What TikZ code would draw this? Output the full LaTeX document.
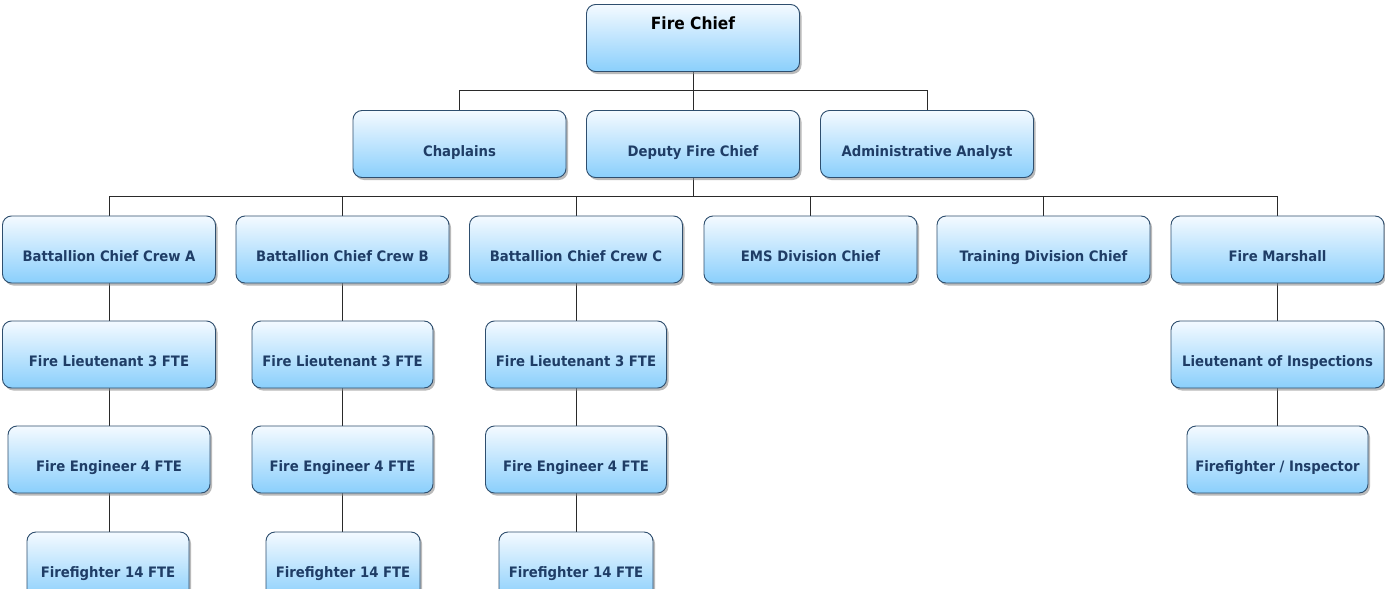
\documentclass[tikz,border=0pt]{standalone}
\usepackage{fontspec}
\newfontfamily\orgfont{DejaVu Sans}[FakeStretch=0.92]
\usetikzlibrary{shadows,backgrounds}
\definecolor{boxtop}{HTML}{F4FAFF}
\definecolor{boxbot}{HTML}{8ACFFC}
\definecolor{boxline}{HTML}{2E4E6E}
\definecolor{boxtext}{HTML}{1F3D66}
\definecolor{wire}{HTML}{2A2A2A}
\tikzset{
  unit/.style={rectangle, rounded corners=9pt, draw=boxline, line width=0.9pt,
    top color=boxtop, bottom color=boxbot, minimum height=67pt,
    inner sep=0pt, font=\orgfont\bfseries\fontsize{14.4}{14.4}\selectfont,
    text=boxtext, align=center, text height=24pt, text depth=0pt,
    drop shadow={shadow xshift=2pt, shadow yshift=-2.5pt, fill=black!45, opacity=0.6}},
  wide/.style={unit, minimum width=213pt},
  mid/.style={unit, minimum width=181pt},
  narrowA/.style={unit, minimum width=202pt},
  chief/.style={unit, minimum width=213pt, text=black,
    font=\orgfont\bfseries\fontsize{16.8}{16.8}\selectfont, text height=0pt, text depth=16pt},
  wire/.style={draw=wire, line width=0.9pt}
}
\begin{document}
\begin{tikzpicture}[x=1pt, y=-1pt]
\useasboundingbox (0,0) rectangle (1385,589);
\clip (0,0) rectangle (1385,589);

% bus junctions
\coordinate (bus1) at (693,90);
\coordinate (bus2) at (693,196);

% top level
\node[chief] (fc) at (693,38) {Fire Chief};

% second level
\node[wide] (chap)  at (459.5,144) {Chaplains};
\node[wide] (dep)   at (693,144)   {Deputy Fire Chief};
\node[wide] (admin) at (927,144)   {Administrative Analyst};

% third level
\node[wide] (bca) at (109,249.5)   {Battallion Chief Crew A};
\node[wide] (bcb) at (342.5,249.5) {Battallion Chief Crew B};
\node[wide] (bcc) at (576,249.5)   {Battallion Chief Crew C};
\node[wide] (ems) at (810.5,249.5) {EMS Division Chief};
\node[wide] (trn) at (1043.5,249.5){Training Division Chief};
\node[wide] (fm)  at (1277.5,249.5){Fire Marshall};

% crew A
\node[wide]    (lta) at (109,354.5) {Fire Lieutenant 3 FTE};
\node[narrowA] (ena) at (109,459.5) {Fire Engineer 4 FTE};
\node[unit, minimum width=162pt] (ffa) at (108,565.5) {Firefighter 14 FTE};

% crew B
\node[mid] (ltb) at (342.5,354.5) {Fire Lieutenant 3 FTE};
\node[mid] (enb) at (342.5,459.5) {Fire Engineer 4 FTE};
\node[unit, minimum width=154pt] (ffb) at (343,565.5) {Firefighter 14 FTE};

% crew C
\node[mid] (ltc) at (576,354.5) {Fire Lieutenant 3 FTE};
\node[mid] (enc) at (576,459.5) {Fire Engineer 4 FTE};
\node[unit, minimum width=154pt] (ffc) at (576,565.5) {Firefighter 14 FTE};

% fire marshall branch
\node[wide] (lti) at (1277.5,354.5) {Lieutenant of Inspections};
\node[mid]  (ffi) at (1277.5,459.5) {Firefighter / Inspector};

% connectors, behind the boxes
\begin{scope}[on background layer]
\fill[white] (0,0) rectangle (1385,589);
\path[wire] (fc.south) -- (bus1);
\path[wire] (bus1) -| (chap.north);
\path[wire] (bus1) -| (admin.north);
\path[wire] (bus1) -- (dep.north);
\path[wire] (dep.south) -- (bus2);
\path[wire] (bus2) -| (bca.north);
\path[wire] (bus2) -| (bcb.north);
\path[wire] (bus2) -| (bcc.north);
\path[wire] (bus2) -| (ems.north);
\path[wire] (bus2) -| (trn.north);
\path[wire] (bus2) -| (fm.north);
\path[wire] (bca.south) -- (lta.north);
\path[wire] (lta.south) -- (ena.north);
\path[wire] (ena.south) -- (ffa.north -| ena.south);
\path[wire] (bcb.south) -- (ltb.north);
\path[wire] (ltb.south) -- (enb.north);
\path[wire] (enb.south) -- (ffb.north -| enb.south);
\path[wire] (bcc.south) -- (ltc.north);
\path[wire] (ltc.south) -- (enc.north);
\path[wire] (enc.south) -- (ffc.north);
\path[wire] (fm.south) -- (lti.north);
\path[wire] (lti.south) -- (ffi.north);
\end{scope}
\end{tikzpicture}
\end{document}
